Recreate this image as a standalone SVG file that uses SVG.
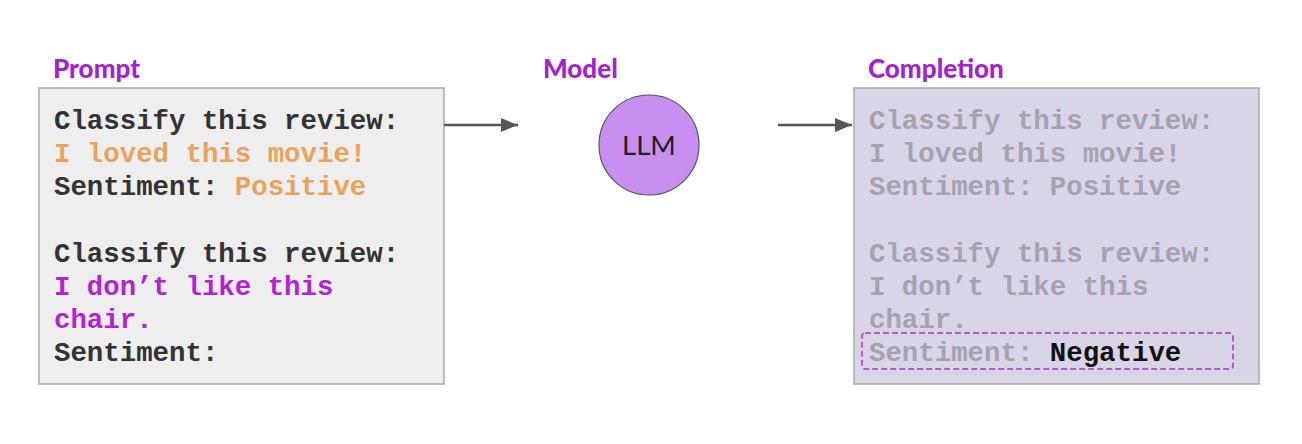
<svg xmlns="http://www.w3.org/2000/svg" width="1302" height="444" viewBox="0 0 1302 444">
<style>
.lbl{font-family:Lato,"Liberation Sans",sans-serif;font-weight:900;font-size:26px;fill:#A324CF}
.mono{font-family:"Liberation Mono","Courier New",monospace;font-weight:bold;font-size:27.4px}
.dk{fill:#333333}
.or{fill:#E9A35D}
.mg{fill:#B423D2}
.gr{fill:#A6A2B0}
.bk{fill:#111111}
.conn{stroke:#555555;stroke-width:2.4;fill:none}
</style>
<defs>
<marker id="ah" viewBox="0 0 17 14" refX="17" refY="7" markerWidth="17" markerHeight="14" markerUnits="userSpaceOnUse" orient="auto">
<path d="M0,0 L17,7 L0,14 z" fill="#555555"/>
</marker>
</defs>
<rect width="1302" height="444" fill="#ffffff"/>
<g id="prompt">
<text class="lbl" x="53" y="78">Prompt</text>
<rect x="39" y="88" width="405" height="296" fill="#EEEEEE" stroke="#AAAAAA" stroke-width="1.5"/>
<text class="mono dk" x="54" y="129">Classify this review:</text>
<text class="mono or" x="54" y="162">I loved this movie!</text>
<text class="mono" x="54" y="195"><tspan class="dk">Sentiment: </tspan><tspan class="or">Positive</tspan></text>
<text class="mono dk" x="54" y="262">Classify this review:</text>
<text class="mono mg" x="54" y="295">I don’t like this</text>
<text class="mono mg" x="54" y="328">chair.</text>
<text class="mono dk" x="54" y="361">Sentiment:</text>
</g>
<g id="model">
<text class="lbl" x="543" y="78">Model</text>
<circle cx="649" cy="145" r="50" fill="#C98FF0" stroke="#555555" stroke-width="1.2"/>
<text x="649" y="155" text-anchor="middle" font-family="Lato,'Liberation Sans',sans-serif" font-size="27.5" fill="#222222">LLM</text>
</g>
<g id="completion">
<text class="lbl" x="868" y="78">Completion</text>
<rect x="854" y="88" width="405" height="296" fill="#D9D4E6" stroke="#AAAAAA" stroke-width="1.5"/>
<text class="mono gr" x="869" y="129">Classify this review:</text>
<text class="mono gr" x="869" y="162">I loved this movie!</text>
<text class="mono gr" x="869" y="195">Sentiment: Positive</text>
<text class="mono gr" x="869" y="262">Classify this review:</text>
<text class="mono gr" x="869" y="295">I don’t like this</text>
<text class="mono gr" x="869" y="328">chair.</text>
<text class="mono" x="869" y="361"><tspan class="gr">Sentiment: </tspan><tspan class="bk">Negative</tspan></text>
<rect x="862" y="333" width="371" height="36" rx="3" fill="none" stroke="#B65CD8" stroke-width="2" stroke-dasharray="6,3"/>
</g>
<g id="connectors">
<line class="conn" x1="444" y1="125" x2="518" y2="125" marker-end="url(#ah)"/>
<line class="conn" x1="778" y1="125" x2="852" y2="125" marker-end="url(#ah)"/>
</g>
</svg>
